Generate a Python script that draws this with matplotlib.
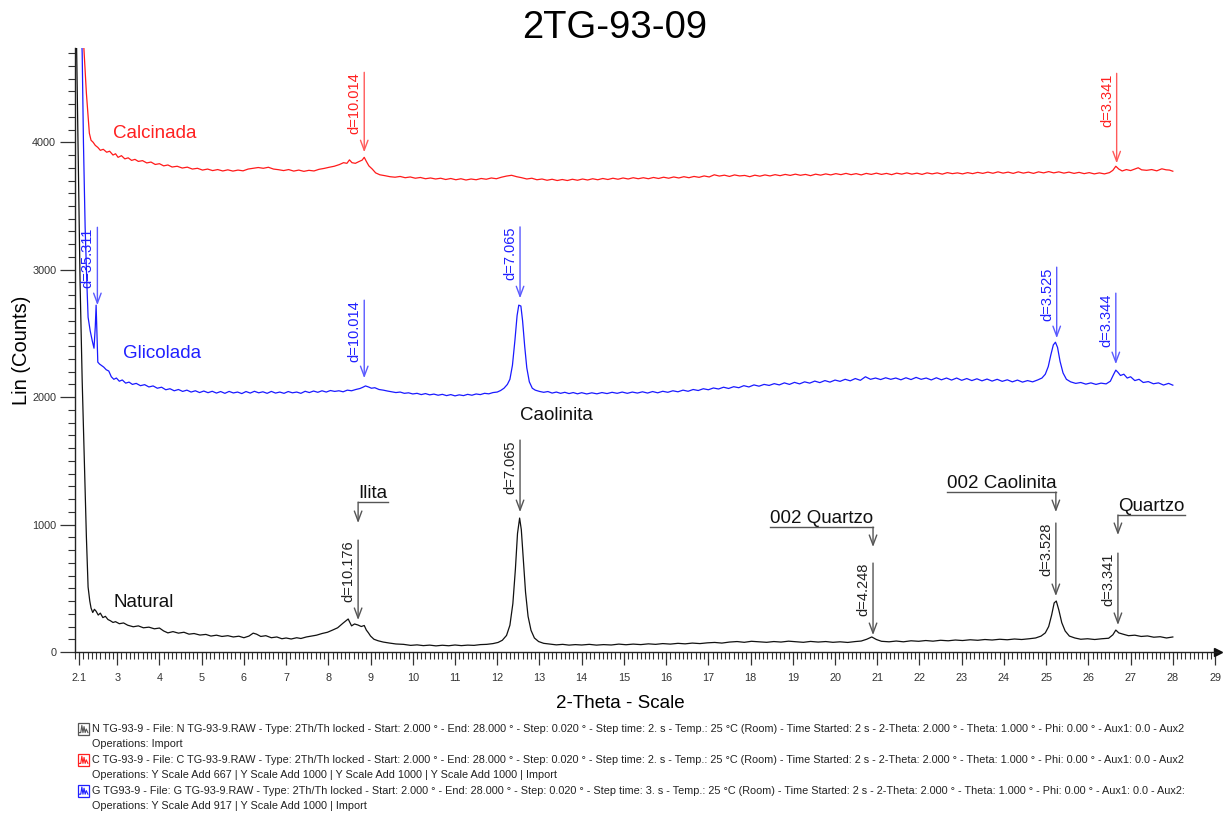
import numpy as np
import matplotlib
matplotlib.use("Agg")
import matplotlib.pyplot as plt
from matplotlib.ticker import FixedLocator, MultipleLocator
from matplotlib.patches import Rectangle
from matplotlib.lines import Line2D

plt.rcParams['font.family'] = ['Liberation Sans', 'DejaVu Sans']

# ---- data (2-theta, counts) ----
natural_tt = [
    2.00, 2.04, 2.08, 2.12, 2.17, 2.22, 2.27, 2.31, 2.35, 2.38,
    2.42, 2.46, 2.50, 2.55, 2.60, 2.66, 2.72, 2.78, 2.84, 2.90,
    2.96, 3.05, 3.15, 3.25, 3.38, 3.50, 3.62, 3.75, 3.88, 4.00,
    4.10, 4.20, 4.32, 4.45, 4.58, 4.70, 4.82, 4.96, 5.10, 5.22,
    5.35, 5.48, 5.62, 5.75, 5.88, 6.00, 6.12, 6.22, 6.30, 6.40,
    6.52, 6.65, 6.78, 6.90, 7.00, 7.12, 7.25, 7.35, 7.48, 7.60,
    7.72, 7.85, 7.98, 8.10, 8.22, 8.35, 8.47, 8.55, 8.62, 8.70,
    8.78, 8.85, 8.90, 8.95, 9.00, 9.08, 9.18, 9.30, 9.45, 9.60,
    9.78, 9.95, 10.10, 10.25, 10.40, 10.55, 10.70, 10.85, 11.00, 11.15,
    11.30, 11.45, 11.60, 11.75, 11.90, 12.02, 12.12, 12.22, 12.30, 12.37,
    12.43, 12.48, 12.53, 12.57, 12.62, 12.67, 12.73, 12.80, 12.88, 12.98,
    13.10, 13.25, 13.40, 13.55, 13.70, 13.85, 14.00, 14.18, 14.35, 14.52,
    14.70, 14.88, 15.05, 15.22, 15.40, 15.58, 15.75, 15.92, 16.10, 16.28,
    16.45, 16.62, 16.80, 16.98, 17.15, 17.32, 17.50, 17.68, 17.85, 18.02,
    18.20, 18.38, 18.55, 18.72, 18.90, 19.08, 19.25, 19.42, 19.60, 19.78,
    19.95, 20.12, 20.30, 20.48, 20.62, 20.75, 20.87, 20.98, 21.10, 21.28,
    21.45, 21.62, 21.80, 21.98, 22.15, 22.32, 22.50, 22.68, 22.85, 23.02,
    23.20, 23.38, 23.55, 23.72, 23.90, 24.08, 24.25, 24.42, 24.60, 24.75,
    24.88, 24.98, 25.06, 25.13, 25.19, 25.24, 25.30, 25.37, 25.45, 25.55,
    25.68, 25.82, 25.98, 26.15, 26.32, 26.48, 26.58, 26.65, 26.72, 26.82,
    26.95, 27.10, 27.25, 27.40, 27.55, 27.70, 27.85, 28.00,
]
natural_counts = [
    5600, 4700, 3800, 2900, 2130, 1500, 900, 510, 400, 345,
    310, 335, 320, 290, 305, 270, 280, 255, 245, 232,
    238, 222, 228, 210, 198, 205, 190, 195, 182, 188,
    165, 150, 160, 148, 155, 140, 145, 133, 138, 125,
    132, 122, 128, 118, 124, 112, 125, 148, 140, 122,
    128, 112, 118, 104, 110, 102, 112, 106, 118, 125,
    132, 145, 155, 172, 190, 227, 259, 205, 220, 212,
    200, 208, 172, 150, 125, 100, 88, 78, 70, 63,
    60, 52, 56, 50, 54, 48, 53, 49, 55, 50,
    54, 52, 58, 60, 66, 75, 92, 130, 210, 380,
    650, 930, 1051, 960, 720, 470, 280, 170, 110, 82,
    68, 62, 56, 60, 54, 58, 55, 60, 54, 58,
    55, 62, 57, 62, 58, 64, 60, 66, 62, 68,
    64, 70, 66, 72, 75, 70, 78, 82, 76, 84,
    80, 76, 82, 78, 85, 80, 76, 83, 78, 82,
    76, 80, 75, 82, 86, 100, 118, 98, 84, 80,
    86, 80, 88, 84, 90, 85, 92, 88, 94, 90,
    96, 92, 98, 94, 100, 96, 102, 98, 104, 110,
    125, 150, 200, 290, 385, 400, 330, 230, 165, 125,
    110, 100, 104, 98, 104, 108, 135, 172, 150, 140,
    128, 132, 122, 126, 116, 120, 110, 118,
]

glicolada_tt = [
    2.00, 2.06, 2.12, 2.17, 2.20, 2.24, 2.28, 2.31, 2.36, 2.41,
    2.45, 2.48, 2.50, 2.52, 2.54, 2.58, 2.63, 2.68, 2.74, 2.80,
    2.86, 2.92, 2.98, 3.05, 3.12, 3.20, 3.28, 3.36, 3.45, 3.55,
    3.65, 3.75, 3.85, 3.95, 4.05, 4.15, 4.25, 4.35, 4.45, 4.55,
    4.65, 4.75, 4.85, 4.95, 5.05, 5.15, 5.25, 5.35, 5.45, 5.55,
    5.65, 5.75, 5.85, 5.95, 6.05, 6.15, 6.25, 6.35, 6.45, 6.55,
    6.65, 6.75, 6.85, 6.95, 7.05, 7.15, 7.25, 7.35, 7.45, 7.55,
    7.65, 7.75, 7.85, 7.95, 8.05, 8.15, 8.25, 8.35, 8.45, 8.55,
    8.65, 8.75, 8.82, 8.88, 8.95, 9.02, 9.10, 9.20, 9.30, 9.40,
    9.50, 9.60, 9.70, 9.80, 9.90, 10.00, 10.10, 10.20, 10.30, 10.40,
    10.50, 10.60, 10.70, 10.80, 10.90, 11.00, 11.10, 11.20, 11.30, 11.40,
    11.50, 11.60, 11.70, 11.80, 11.90, 12.00, 12.08, 12.16, 12.24, 12.30,
    12.36, 12.42, 12.47, 12.51, 12.56, 12.60, 12.65, 12.70, 12.76, 12.83,
    12.90, 13.00, 13.10, 13.20, 13.30, 13.40, 13.50, 13.60, 13.70, 13.80,
    13.90, 14.00, 14.12, 14.24, 14.36, 14.48, 14.60, 14.72, 14.84, 14.96,
    15.08, 15.20, 15.32, 15.44, 15.56, 15.68, 15.80, 15.92, 16.04, 16.16,
    16.28, 16.40, 16.52, 16.64, 16.76, 16.88, 17.00, 17.12, 17.24, 17.36,
    17.48, 17.60, 17.72, 17.84, 17.96, 18.08, 18.20, 18.32, 18.44, 18.56,
    18.68, 18.80, 18.92, 19.04, 19.16, 19.28, 19.40, 19.52, 19.64, 19.76,
    19.88, 20.00, 20.12, 20.24, 20.36, 20.48, 20.60, 20.72, 20.84, 20.96,
    21.08, 21.20, 21.32, 21.44, 21.56, 21.68, 21.80, 21.92, 22.04, 22.16,
    22.28, 22.40, 22.52, 22.64, 22.76, 22.88, 23.00, 23.12, 23.24, 23.36,
    23.48, 23.60, 23.72, 23.84, 23.96, 24.08, 24.20, 24.32, 24.44, 24.56,
    24.68, 24.80, 24.90, 24.98, 25.05, 25.11, 25.17, 25.22, 25.27, 25.33,
    25.40, 25.48, 25.58, 25.70, 25.82, 25.94, 26.06, 26.18, 26.30, 26.42,
    26.52, 26.60, 26.65, 26.70, 26.76, 26.84, 26.92, 27.00, 27.10, 27.20,
    27.30, 27.42, 27.54, 27.66, 27.78, 27.90, 28.00,
]
glicolada_counts = [
    7000, 6000, 5200, 4700, 4000, 3333, 2900, 2627, 2520, 2440,
    2384, 2550, 2722, 2500, 2275, 2260, 2248, 2236, 2215, 2205,
    2160, 2140, 2150, 2125, 2135, 2110, 2118, 2100, 2108, 2090,
    2098, 2080, 2088, 2070, 2078, 2058, 2066, 2050, 2060, 2045,
    2055, 2040, 2050, 2036, 2048, 2035, 2046, 2032, 2044, 2030,
    2045, 2033, 2040, 2028, 2044, 2032, 2046, 2034, 2042, 2030,
    2045, 2032, 2040, 2030, 2044, 2034, 2040, 2030, 2046, 2036,
    2048, 2038, 2050, 2040, 2052, 2045, 2050, 2042, 2055, 2050,
    2060, 2068, 2078, 2088, 2080, 2070, 2074, 2060, 2055, 2048,
    2042, 2036, 2040, 2030, 2034, 2025, 2030, 2020, 2028, 2018,
    2024, 2015, 2022, 2012, 2020, 2010, 2018, 2012, 2022, 2015,
    2025, 2020, 2030, 2026, 2036, 2040, 2052, 2070, 2100, 2140,
    2250, 2450, 2640, 2722, 2715, 2600, 2400, 2230, 2120, 2070,
    2055, 2045, 2038, 2044, 2032, 2040, 2030, 2038, 2028, 2036,
    2026, 2035, 2025, 2034, 2026, 2036, 2028, 2038, 2030, 2040,
    2030, 2040, 2032, 2042, 2032, 2044, 2034, 2046, 2038, 2050,
    2042, 2055, 2046, 2060, 2052, 2066, 2058, 2072, 2064, 2078,
    2068, 2082, 2074, 2090, 2080, 2096, 2086, 2100, 2092, 2106,
    2096, 2112, 2100, 2116, 2104, 2120, 2110, 2126, 2114, 2130,
    2118, 2134, 2124, 2140, 2128, 2146, 2132, 2160, 2140, 2150,
    2138, 2152, 2140, 2150, 2136, 2152, 2138, 2155, 2140, 2150,
    2135, 2152, 2136, 2150, 2134, 2150, 2132, 2146, 2130, 2144,
    2128, 2142, 2126, 2140, 2124, 2136, 2120, 2134, 2118, 2130,
    2120, 2135, 2150, 2180, 2240, 2330, 2410, 2431, 2390, 2280,
    2190, 2140, 2120, 2108, 2115, 2102, 2112, 2100, 2110, 2104,
    2125, 2180, 2212, 2195, 2170, 2180, 2150, 2160, 2130, 2140,
    2115, 2122, 2105, 2112, 2095, 2108, 2094,
]

calcinada_tt = [
    2.00, 2.08, 2.14, 2.20, 2.24, 2.27, 2.30, 2.34, 2.38, 2.43,
    2.48, 2.54, 2.60, 2.67, 2.75, 2.82, 2.90, 2.96, 3.02, 3.10,
    3.18, 3.26, 3.34, 3.42, 3.50, 3.60, 3.70, 3.80, 3.90, 4.00,
    4.10, 4.20, 4.30, 4.42, 4.54, 4.66, 4.78, 4.90, 5.02, 5.14,
    5.26, 5.38, 5.50, 5.62, 5.74, 5.86, 5.98, 6.10, 6.22, 6.34,
    6.46, 6.58, 6.70, 6.82, 6.94, 7.06, 7.18, 7.30, 7.42, 7.54,
    7.66, 7.78, 7.90, 8.02, 8.14, 8.26, 8.36, 8.44, 8.50, 8.56,
    8.64, 8.72, 8.80, 8.85, 8.90, 8.96, 9.04, 9.12, 9.22, 9.34,
    9.46, 9.58, 9.70, 9.82, 9.94, 10.06, 10.18, 10.30, 10.42, 10.54,
    10.66, 10.78, 10.90, 11.02, 11.14, 11.26, 11.38, 11.50, 11.62, 11.74,
    11.86, 11.98, 12.10, 12.22, 12.34, 12.46, 12.58, 12.70, 12.82, 12.94,
    13.06, 13.18, 13.30, 13.42, 13.54, 13.66, 13.78, 13.90, 14.02, 14.14,
    14.26, 14.38, 14.50, 14.62, 14.74, 14.86, 14.98, 15.10, 15.22, 15.34,
    15.46, 15.58, 15.70, 15.82, 15.94, 16.06, 16.18, 16.30, 16.42, 16.54,
    16.66, 16.78, 16.90, 17.02, 17.14, 17.26, 17.38, 17.50, 17.62, 17.74,
    17.86, 17.98, 18.10, 18.22, 18.34, 18.46, 18.58, 18.70, 18.82, 18.94,
    19.06, 19.18, 19.30, 19.42, 19.54, 19.66, 19.78, 19.90, 20.02, 20.14,
    20.26, 20.38, 20.50, 20.62, 20.74, 20.86, 20.98, 21.10, 21.22, 21.34,
    21.46, 21.58, 21.70, 21.82, 21.94, 22.06, 22.18, 22.30, 22.42, 22.54,
    22.66, 22.78, 22.90, 23.02, 23.14, 23.26, 23.38, 23.50, 23.62, 23.74,
    23.86, 23.98, 24.10, 24.22, 24.34, 24.46, 24.58, 24.70, 24.82, 24.94,
    25.06, 25.18, 25.30, 25.42, 25.54, 25.66, 25.78, 25.90, 26.02, 26.14,
    26.26, 26.38, 26.50, 26.58, 26.65, 26.72, 26.80, 26.90, 27.00, 27.10,
    27.18, 27.26, 27.38, 27.50, 27.62, 27.74, 27.84, 27.92, 28.00,
]
calcinada_counts = [
    8200, 6800, 5800, 4800, 4560, 4384, 4251, 4071, 4016, 4000,
    3976, 3960, 3937, 3945, 3922, 3930, 3900, 3910, 3882, 3895,
    3870, 3878, 3858, 3866, 3850, 3856, 3838, 3845, 3826, 3832,
    3815, 3822, 3806, 3812, 3798, 3805, 3790, 3796, 3782, 3790,
    3778, 3786, 3775, 3784, 3774, 3782, 3776, 3790, 3796, 3802,
    3796, 3804, 3790, 3785, 3778, 3786, 3774, 3782, 3772, 3780,
    3775, 3788, 3795, 3804, 3812, 3825, 3840, 3835, 3862, 3840,
    3835, 3848, 3860, 3882, 3850, 3815, 3790, 3760, 3745, 3738,
    3730, 3726, 3732, 3722, 3728, 3718, 3724, 3714, 3720, 3712,
    3718, 3708, 3716, 3706, 3714, 3704, 3712, 3706, 3716, 3710,
    3720, 3714, 3726, 3735, 3741, 3730, 3722, 3712, 3718, 3706,
    3712, 3702, 3710, 3700, 3708, 3700, 3710, 3702, 3712, 3704,
    3714, 3706, 3716, 3708, 3718, 3710, 3720, 3712, 3722, 3714,
    3722, 3714, 3724, 3716, 3726, 3718, 3728, 3720, 3730, 3722,
    3732, 3725, 3736, 3728, 3745, 3735, 3742, 3732, 3744, 3736,
    3740, 3730, 3742, 3734, 3744, 3736, 3746, 3738, 3748, 3740,
    3750, 3741, 3748, 3738, 3750, 3742, 3752, 3744, 3754, 3746,
    3756, 3746, 3754, 3744, 3756, 3748, 3758, 3748, 3756, 3746,
    3758, 3750, 3760, 3750, 3758, 3748, 3760, 3752, 3760, 3750,
    3762, 3754, 3760, 3752, 3762, 3754, 3764, 3756, 3766, 3757,
    3768, 3758, 3766, 3756, 3768, 3758, 3766, 3756, 3768, 3760,
    3770, 3760, 3768, 3758, 3766, 3756, 3764, 3754, 3762, 3752,
    3760, 3752, 3762, 3780, 3812, 3790, 3775, 3786, 3778, 3790,
    3800, 3784, 3780, 3786, 3776, 3792, 3784, 3782, 3773,
]

x_ticks = [2.1] + list(range(3, 30))
x_ticklabels = ['2.1'] + [str(v) for v in range(3, 30)]
y_ticks = [0, 1000, 2000, 3000, 4000]

# peak markers: (2theta, top, tip, label, colour)
peak_marks = [
    (8.85, 4549, 3922, 'd=10.014', 'red'),
    (26.67, 4541, 3835, 'd=3.341', 'red'),
    (2.53, 3333, 2722, 'd=35.311', 'blue'),
    (8.85, 2761, 2149, 'd=10.014', 'blue'),
    (12.54, 3336, 2776, 'd=7.065', 'blue'),
    (25.25, 3020, 2463, 'd=3.525', 'blue'),
    (26.65, 2816, 2259, 'd=3.344', 'blue'),
    (8.705, 878, 251, 'd=10.176', 'black'),
    (12.54, 1663, 1098, 'd=7.065', 'black'),
    (20.90, 698, 133, 'd=4.248', 'black'),
    (25.23, 1012, 439, 'd=3.528', 'black'),
    (26.70, 776, 212, 'd=3.341', 'black'),
]
# mineral labels with bracket: (arrow x, other end of bar, bar y, tip, text)
mineral_marks = [
    (8.705, 9.42, 1176, 1012, 'Ilita'),
    (20.90, 18.46, 980, 824, '002 Quartzo'),
    (25.23, 22.65, 1255, 1098, '002 Caolinita'),
    (26.70, 28.28, 1075, 918, 'Quartzo'),
]

legend_lines = [
    ('N TG-93-9 - File: N TG-93-9.RAW - Type: 2Th/Th locked - Start: 2.000 \u00b0 - End: 28.000 \u00b0 - Step: 0.020 \u00b0 - Step time: 2. s - Temp.: 25 \u00b0C (Room) - Time Started: 2 s - 2-Theta: 2.000 \u00b0 - Theta: 1.000 \u00b0 - Phi: 0.00 \u00b0 - Aux1: 0.0 - Aux2', '#555555'),
    ('Operations: Import', None),
    ('C TG-93-9 - File: C TG-93-9.RAW - Type: 2Th/Th locked - Start: 2.000 \u00b0 - End: 28.000 \u00b0 - Step: 0.020 \u00b0 - Step time: 2. s - Temp.: 25 \u00b0C (Room) - Time Started: 2 s - 2-Theta: 2.000 \u00b0 - Theta: 1.000 \u00b0 - Phi: 0.00 \u00b0 - Aux1: 0.0 - Aux2', '#ff2020'),
    ('Operations: Y Scale Add 667 | Y Scale Add 1000 | Y Scale Add 1000 | Y Scale Add 1000 | Import', None),
    ('G TG93-9 - File: G TG-93-9.RAW - Type: 2Th/Th locked - Start: 2.000 \u00b0 - End: 28.000 \u00b0 - Step: 0.020 \u00b0 - Step time: 3. s - Temp.: 25 \u00b0C (Room) - Time Started: 2 s - 2-Theta: 2.000 \u00b0 - Theta: 1.000 \u00b0 - Phi: 0.00 \u00b0 - Aux1: 0.0 - Aux2:', '#2020ff'),
    ('Operations: Y Scale Add 917 | Y Scale Add 1000 | Import', None),
]
icon_wave_x = [0.1, 0.25, 0.35, 0.45, 0.55, 0.65, 0.75, 0.9]
icon_wave_y = [0.2, 0.2, 0.8, 0.2, 0.7, 0.2, 0.5, 0.2]

trace_col = {'black': '#111111', 'red': '#ff1a1a', 'blue': '#1a1aff'}
mark_line_col = {'black': '#555555', 'red': '#ff5a5a', 'blue': '#5a5aff'}
mark_text_col = {'black': '#222222', 'red': '#ff2020', 'blue': '#2020ff'}

W, H = 1227, 816
fig = plt.figure(figsize=(W / 100, H / 100), dpi=100)
ax = fig.add_axes([75 / W, 1 - 652 / H, (1218 - 75) / W, (652 - 48) / H])

ax.plot(natural_tt, natural_counts, color=trace_col['black'], lw=0.9)
ax.plot(glicolada_tt, glicolada_counts, color=trace_col['blue'], lw=0.9)
ax.plot(calcinada_tt, calcinada_counts, color=trace_col['red'], lw=0.9)

ax.set_xlim(2.0, 29.07)
ax.set_ylim(0, 4740)
for s in ['top', 'right']:
    ax.spines[s].set_visible(False)
for s in ['left', 'bottom']:
    ax.spines[s].set_color('#222222')
    ax.spines[s].set_linewidth(1.0)
ax.plot(1, 0, marker='>', ms=6, color='#111111', transform=ax.transAxes, clip_on=False)

ax.xaxis.set_major_locator(FixedLocator(x_ticks))
ax.set_xticklabels(x_ticklabels)
ax.xaxis.set_minor_locator(MultipleLocator(0.1))
ax.yaxis.set_major_locator(FixedLocator(y_ticks))
ax.yaxis.set_minor_locator(MultipleLocator(100))
ax.tick_params(axis='x', which='major', length=9, width=0.9, color='#333333',
               labelsize=7.8, labelcolor='#333333', pad=6)
ax.tick_params(axis='x', which='minor', length=5, width=0.8, color='#333333')
ax.tick_params(axis='y', which='major', length=11, width=0.9, color='#333333',
               labelsize=7.8, labelcolor='#333333', pad=2.5)
ax.tick_params(axis='y', which='minor', length=5, width=0.8, color='#333333')

# sample names
ax.text(2.905, 4071, 'Calcinada', color='#ff2020', fontsize=13.5, va='center')
ax.text(3.14, 2345, 'Glicolada', color='#2020ff', fontsize=13.5, va='center')
ax.text(2.905, 392, 'Natural', color='#111111', fontsize=13.5, va='center')
ax.text(12.54, 1859, 'Caolinita', color='#111111', fontsize=13.5, va='center')

arrow_style = '->,head_length=0.4,head_width=0.15'
for x, top, tip, label, c in peak_marks:
    ax.annotate('', xy=(x, tip), xytext=(x, top),
                arrowprops=dict(arrowstyle=arrow_style, color=mark_line_col[c],
                                lw=1.0, shrinkA=0, shrinkB=0, mutation_scale=18))
    ax.annotate(label, xy=(x, top), xytext=(-2, 0), textcoords='offset points',
                rotation=90, ha='right', va='top', fontsize=10.5,
                color=mark_text_col[c])

for x, x_other, bar_y, tip, label in mineral_marks:
    ax.plot([x, x_other], [bar_y, bar_y], color='#555555', lw=1.0)
    ax.annotate('', xy=(x, tip), xytext=(x, bar_y),
                arrowprops=dict(arrowstyle=arrow_style, color='#555555',
                                lw=1.0, shrinkA=0, shrinkB=0, mutation_scale=18))
    ax.text(min(x, x_other), bar_y, label, fontsize=13.5, color='#111111',
            ha='left', va='bottom')

fig.text(615 / W, 1 - 28 / H, '2TG-93-09', fontsize=27.5, ha='center', va='center')
fig.text(22 / W, 1 - 350 / H, 'Lin (Counts)', fontsize=14.5, rotation=90,
         ha='center', va='center')
fig.text(620 / W, 1 - 703 / H, '2-Theta - Scale', fontsize=13.5, ha='center', va='center')

row_y0, row_step = 729, 15.4
for i, (txt, icon_col) in enumerate(legend_lines):
    yc = row_y0 + i * row_step
    fig.text(92 / W, 1 - yc / H, txt, fontsize=7.8, color='#222222', va='center')
    if icon_col:
        x0, y0, w, h = 78, yc - 6, 11, 12
        fig.patches.append(Rectangle((x0 / W, 1 - (y0 + h) / H), w / W, h / H,
                                     transform=fig.transFigure, fill=False,
                                     ec=icon_col, lw=0.9))
        fig.lines.append(Line2D([(x0 + v * w) / W for v in icon_wave_x],
                                [1 - (y0 + h - v * h) / H for v in icon_wave_y],
                                transform=fig.transFigure, color=icon_col, lw=0.8))

fig.savefig('out.png', dpi=100)
